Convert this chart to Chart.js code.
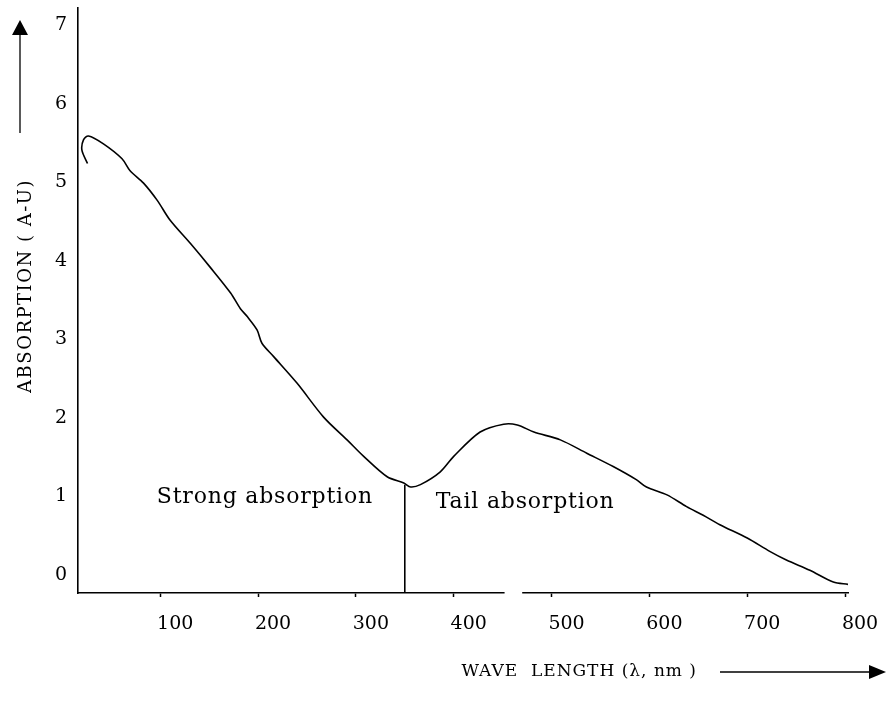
<!DOCTYPE html>
<html>
<head>
<meta charset="utf-8">
<script src="https://cdn.jsdelivr.net/npm/chart.js@4.4.0/dist/chart.umd.min.js"></script>
<style>
    html, body { margin: 0; padding: 0; background: #fff; }
    canvas { display: block; }
</style>
</head>
<body>
<canvas id="absorption-chart" width="890" height="709"></canvas>
<script>
// curve, in drawing order (it hooks back at the start)
const wavelengths = [25.7, 20, 21.6, 26.7, 42, 61, 69, 83, 97, 110, 131, 151, 172, 182, 189, 199, 204, 216, 240, 267,
    291, 308, 332, 349, 356, 366, 386, 400, 427, 451, 465, 482, 509, 536, 563, 587, 597, 618, 638, 655,
    672, 700, 723, 740, 764, 788, 803];
const absorption = [5.24, 5.41, 5.54, 5.59, 5.49, 5.30, 5.15, 4.99, 4.77, 4.52, 4.22, 3.92, 3.59, 3.39, 3.29, 3.12, 2.95, 2.78, 2.44, 2.01,
    1.72, 1.51, 1.25, 1.17, 1.12, 1.15, 1.31, 1.51, 1.82, 1.92, 1.91, 1.82, 1.72, 1.55, 1.38, 1.21, 1.12, 1.02, 0.87, 0.76,
    0.64, 0.47, 0.30, 0.19, 0.06, -0.09, -0.12];

const xTicks = [100, 200, 300, 400, 500, 600, 700, 800];
const yTicks = [0, 1, 2, 3, 4, 5, 6, 7];
const xRange = [16, 803];
const yRange = [-0.23, 7.22];

// divider between the two regions
const boundaryWavelength = [350, 350];
const boundaryAbsorption = [-0.23, 1.15];
const regionLabels = ['Strong absorption', 'Tail absorption'];
const axisGap = [452, 470];

const serif = '"DejaVu Serif", "Liberation Serif", serif';

const curve = wavelengths.map((w, i) => ({ x: w, y: absorption[i] }));
const divider = boundaryWavelength.map((w, i) => ({ x: w, y: boundaryAbsorption[i] }));

const decorations = {
    id: 'decorations',
    afterDraw(chart) {
        const { ctx, scales: { x, y } } = chart;
        ctx.save();

        // little break in the x axis line
        let g0 = x.getPixelForValue(axisGap[0]);
        let g1 = x.getPixelForValue(axisGap[1]);
        ctx.fillStyle = '#fff';
        ctx.fillRect(g0, y.bottom - 3, g1 - g0, 6);

        ctx.fillStyle = '#000';
        ctx.textBaseline = 'middle';
        ctx.textAlign = 'center';
        ctx.font = '22px ' + serif;
        ctx.letterSpacing = '0.8px';
        ctx.fillText(regionLabels[0], x.getPixelForValue(207), y.getPixelForValue(0.99));
        ctx.fillText(regionLabels[1], x.getPixelForValue(473), y.getPixelForValue(0.93));

        // x title + arrow
        ctx.font = '17px ' + serif;
        ctx.letterSpacing = '1px';
        ctx.textAlign = 'right';
        ctx.fillText('WAVE  LENGTH (λ, nm )', 697, 672);
        ctx.strokeStyle = '#000';
        ctx.lineWidth = 1.3;
        ctx.beginPath();
        ctx.moveTo(720, 672);
        ctx.lineTo(872, 672);
        ctx.stroke();
        ctx.beginPath();
        ctx.moveTo(886, 672);
        ctx.lineTo(869, 665);
        ctx.lineTo(869, 679);
        ctx.closePath();
        ctx.fill();

        // y title + arrow
        ctx.save();
        ctx.translate(26, 286);
        ctx.rotate(-Math.PI / 2);
        ctx.textAlign = 'center';
        ctx.font = '18px ' + serif;
        ctx.letterSpacing = '1.5px';
        ctx.fillText('ABSORPTION ( A-U)', 0, 0);
        ctx.restore();
        ctx.beginPath();
        ctx.moveTo(20, 133);
        ctx.lineTo(20, 32);
        ctx.stroke();
        ctx.beginPath();
        ctx.moveTo(20, 20);
        ctx.lineTo(12, 35);
        ctx.lineTo(28, 35);
        ctx.closePath();
        ctx.fill();

        ctx.restore();
    }
};

new Chart(document.getElementById('absorption-chart').getContext('2d'), {
    type: 'scatter',
    data: {
        datasets: [
            {
                data: curve,
                showLine: true,
                borderColor: '#000',
                borderWidth: 1.6,
                tension: 0.3,
                pointRadius: 0,
                fill: false,
            },
            {
                data: divider,
                showLine: true,
                borderColor: '#000',
                borderWidth: 1.6,
                pointRadius: 0,
                clip: false,
            },
        ],
    },
    options: {
        responsive: false,
        animation: false,
        layout: { padding: { top: 8, right: 42, left: 0, bottom: 0 } },
        plugins: {
            legend: { display: false },
            tooltip: { enabled: false },
        },
        scales: {
            x: {
                type: 'linear',
                min: xRange[0],
                max: xRange[1],
                afterBuildTicks: scale => { scale.ticks = xTicks.map(v => ({ value: v })); },
                afterFit: scale => {
                    scale.height = 116;
                    scale.paddingLeft = 0;
                    scale.paddingRight = 0;
                },
                grid: { display: true, drawOnChartArea: false, drawTicks: true, tickLength: 4, tickColor: '#000', tickWidth: 1.5 },
                border: { display: true, color: '#000', width: 1.6 },
                ticks: {
                    color: '#000',
                    font: { family: serif, size: 19 },
                    padding: 16,
                    labelOffset: 15,
                    maxRotation: 0,
                    autoSkip: false,
                },
            },
            y: {
                type: 'linear',
                min: yRange[0],
                max: yRange[1],
                afterBuildTicks: scale => { scale.ticks = yTicks.map(v => ({ value: v })); },
                afterFit: scale => {
                    scale.width = 78;
                    scale.paddingTop = 0;
                    scale.paddingBottom = 0;
                },
                grid: { display: false, drawTicks: false },
                border: { display: true, color: '#000', width: 1.6 },
                ticks: {
                    color: '#000',
                    font: { family: serif, size: 19 },
                    padding: 11,
                    autoSkip: false,
                },
            },
        },
    },
    plugins: [decorations],
});
</script>
</body>
</html>
